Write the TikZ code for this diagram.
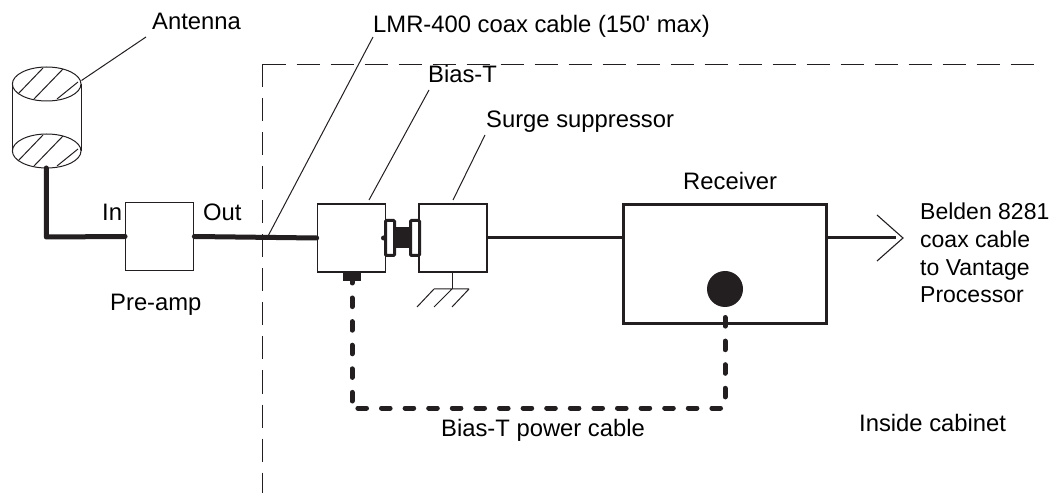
\documentclass[tikz,border=0pt]{standalone}
\usepackage{fontspec}
\setmainfont{Liberation Sans}
\definecolor{ink}{HTML}{231F20}
\tikzset{
  lbl/.style={inner sep=0pt,anchor=base west,font=\fontsize{23.8}{27.7}\selectfont,text=black},
  sidelbl/.style={lbl,font=\fontsize{23}{27.7}\selectfont},
  thinline/.style={draw=ink,line width=1pt},
  boxline/.style={draw=ink,line width=1.7pt,fill=white,minimum width=68pt,minimum height=68pt,inner sep=0pt},
  coax/.style={draw=ink,line width=5pt,line cap=round,line join=round},
  signal/.style={draw=ink,line width=3pt},
  power/.style={draw=ink,line width=5pt,line cap=round,dash pattern=on 8.6pt off 15pt},
  guide/.style={draw=ink,line width=0.8pt,dash pattern=on 23pt off 11pt},
  capbox/.style={draw=ink,line width=3pt,fill=white,rounded corners=1pt}
}
\begin{document}
\begin{tikzpicture}[x=1pt,y=-1pt]
\useasboundingbox (0,0) rectangle (1052,502);
% inside cabinet boundary
\coordinate (g1) at (262.5,493);
\coordinate (g2) at (262.5,64.5);
\coordinate (g3) at (1042,64.5);
\draw[guide] (g2) -- (g1);
\draw[guide] (g2) -- (g3);
% antenna
\draw[thinline] (12.4,84) -- (12.4,151) (81,84) -- (81,151);
\foreach \c in {84,151}{
  \draw[thinline] (46.7,\c) ellipse [x radius=34.3pt,y radius=17pt];
  \draw[thinline] (18,\c+10) -- (43,\c-16);
  \draw[thinline] (34,\c+15) -- (63,\c-15);
  \draw[thinline] (57,\c+15) -- (78,\c-2);
}
\coordinate (antEdge) at (81.5,80.5);
\coordinate (antLead) at (146,37);
\draw[thinline] (antEdge) -- (antLead);
% boxes
\node[boxline,line width=1.3pt] (pre) at (159.7,236.5) {};
\node[boxline] (bias) at (351.5,238) {};
\node[boxline] (surge) at (453,238) {};
\node[draw=ink,line width=3.2pt,fill=white,minimum width=203pt,minimum height=119pt,inner sep=0pt] (rcv) at (725,264) {};
\node[circle,fill=ink,minimum size=36pt,inner sep=0pt] (jack) at (725,289) {};
% coax from antenna via pre-amp to bias-T
\coordinate (antFoot) at (46.3,168);
\coordinate (antCorner) at (46.3,237);
\draw[coax] (antFoot) -- (antCorner) -- (pre.west);
\draw[coax] (pre.east) -- (bias.west);
% connector between bias-T and suppressor
\fill[ink] (395,227) rectangle (410,248);
\draw[capbox] (385.5,220.5) rectangle (394.5,255.5);
\draw[capbox] (410.5,220.5) rectangle (419.5,255.5);
\fill[ink] (383.5,238) circle (2.5pt);
% signal lines
\draw[signal] (surge.east) -- (surge.east -| rcv.west);
\coordinate (tip) at (903,238);
\coordinate (tipA) at (877,215);
\coordinate (tipB) at (877,261);
\coordinate (sigEnd) at (896,238);
\draw[signal] (surge.east -| rcv.east) -- (sigEnd);
\draw[draw=ink,line width=1.1pt] (tipA) -- (tip) -- (tipB);
% ground
\coordinate (gnd) at (452,289);
\draw[draw=ink,line width=1pt] (452,272) -- (gnd);
\draw[thinline] (434,289) -- (469,289) (434,289) -- (417,307) (452,289) -- (434,307) (469,289) -- (452,307);
% power cable
\fill[ink] (343,272) rectangle (361,281);
\coordinate (pa) at (725,317.5);
\coordinate (pb) at (725,402);
\coordinate (pc) at (720.5,408);
\coordinate (pd) at (356,408);
\coordinate (pe) at (352,401);
\coordinate (pf) at (352,270);
\draw[power] (pa) -- (pb);
\draw[power] (pc) -- (pd);
\draw[power] (pe) -- (pf);
% leaders
\draw[thinline] (369,200) -- (429,90);
\draw[thinline] (453,200) -- (485,135);
\draw[thinline] (267,238) -- (373,37);
% labels
\node[lbl] at (152,30) {Antenna};
\node[lbl] at (102,221) {In};
\node[lbl] at (203,221) {Out};
\node[lbl] at (110,311) {Pre-amp};
\node[lbl] at (373,33) {LMR-400 coax cable (150\textquotesingle{} max)};
\node[lbl] at (428,83) {Bias-T};
\node[lbl] at (486,128) {Surge suppressor};
\node[lbl] at (683,190) {Receiver};
\node[sidelbl] at (920,220) {Belden 8281};
\node[sidelbl] at (920,248) {coax cable};
\node[sidelbl] at (920,276) {to Vantage};
\node[sidelbl] at (920,303) {Processor};
\node[lbl] at (441,436) {Bias-T power cable};
\node[lbl] at (859,431) {Inside cabinet};
\end{tikzpicture}
\end{document}
